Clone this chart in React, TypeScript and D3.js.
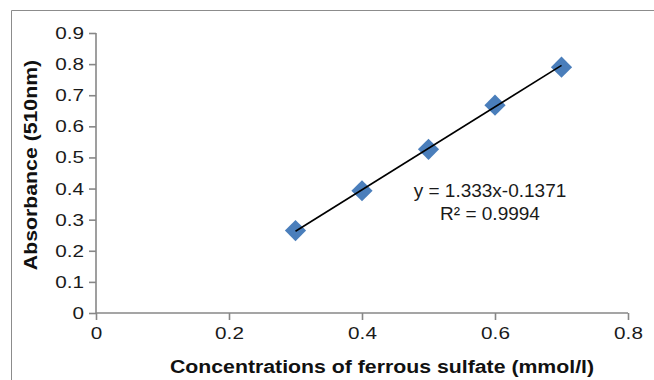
import { useEffect, useRef } from "react";
import * as d3 from "d3";

// data
const concentrations = [0.3, 0.4, 0.5, 0.6, 0.7];
const absorbance = [0.265, 0.393, 0.526, 0.668, 0.79];
const xTicks = [0, 0.2, 0.4, 0.6, 0.8];
const yTicks = [0, 0.1, 0.2, 0.3, 0.4, 0.5, 0.6, 0.7, 0.8, 0.9];
const slope = 1.333;
const intercept = -0.1371;
const equationLines = ["y = 1.333x-0.1371", "R² = 0.9994"];

const App = () => {
  const ref = useRef<SVGSVGElement>(null);

  useEffect(() => {
    const width = 654;
    const height = 380;
    const font = "'Liberation Sans', Arial, sans-serif";
    const axisColor = "#878787";
    const stretch = 1.22; // the original text is a bit wide
    const titleStretch = 1.12;

    const svg = d3.select(ref.current).attr("width", width).attr("height", height);
    svg.selectAll("*").remove();

    svg.append("rect").attr("width", width).attr("height", height).attr("fill", "white");

    // outer chart border (only left + top visible)
    svg
      .append("path")
      .attr("d", `M11.5,${height} V10.5 H${width}`)
      .attr("fill", "none")
      .attr("stroke", "#8c8c8c")
      .attr("stroke-width", 1);

    const x = d3.scaleLinear().domain([0, 0.8]).range([96, 628]);
    const y = d3.scaleLinear().domain([0, 0.9]).range([313, 33]);

    // y axis
    const gy = svg
      .append("g")
      .attr("transform", `translate(${x(0)},0)`)
      .call(
        d3
          .axisLeft(y)
          .tickValues(yTicks)
          .tickSize(7)
          .tickPadding(5)
          .tickFormat((d) => d3.format("")(+d))
      );

    // x axis
    const gx = svg
      .append("g")
      .attr("transform", `translate(0,${y(0)})`)
      .call(
        d3
          .axisBottom(x)
          .tickValues(xTicks)
          .tickSize(7)
          .tickPadding(7)
          .tickFormat((d) => d3.format("")(+d))
      );

    [gx, gy].forEach((g) => {
      g.select(".domain").attr("stroke", axisColor).attr("stroke-width", 1.6);
      g.selectAll(".tick line").attr("stroke", axisColor).attr("stroke-width", 1.6);
      g.selectAll(".tick text")
        .attr("fill", "#1a1a1a")
        .attr("font-family", font)
        .attr("font-size", 17)
        .attr("transform", `scale(${stretch},1)`);
    });
    gy.selectAll(".tick text").attr("x", -12 / stretch);
    // remove the outer tick ends of the domain paths
    gy.select(".domain").attr("d", `M0,${y(0.9)}V${y(0)}`);
    gx.select(".domain").attr("d", `M0,0H${x(0.8) - x(0)}`).attr("transform", `translate(${x(0)},0)`);

    // markers (rotated squares)
    const diamond = d3.symbol().type(d3.symbolSquare).size(225);
    svg
      .append("g")
      .selectAll("path")
      .data(concentrations)
      .join("path")
      .attr("d", diamond)
      .attr("transform", (d, i) => `translate(${x(d)},${y(absorbance[i])}) rotate(45)`)
      .attr("fill", "#4a7ebb");

    // trendline over the markers
    const fit = (v: number) => slope * v + intercept;
    const xs = d3.extent(concentrations) as [number, number];
    svg
      .append("line")
      .attr("x1", x(xs[0]))
      .attr("y1", y(fit(xs[0])))
      .attr("x2", x(xs[1]))
      .attr("y2", y(fit(xs[1])))
      .attr("stroke", "black")
      .attr("stroke-width", 1.6);

    // equation label
    svg
      .append("g")
      .selectAll("text")
      .data(equationLines)
      .join("text")
      .attr("x", 490)
      .attr("y", (d, i) => 197 + i * 23)
      .attr("text-anchor", "middle")
      .attr("font-family", font)
      .attr("font-size", 19)
      .attr("fill", "#1a1a1a")
      .text((d) => d);

    // axis titles
    svg
      .append("text")
      .attr("transform", `translate(382,373) scale(${titleStretch},1)`)
      .attr("text-anchor", "middle")
      .attr("font-family", font)
      .attr("font-size", 19)
      .attr("font-weight", "bold")
      .attr("fill", "#111")
      .text("Concentrations of ferrous sulfate (mmol/l)");

    svg
      .append("text")
      .attr("transform", `translate(37,165) rotate(-90) scale(${titleStretch},1)`)
      .attr("text-anchor", "middle")
      .attr("font-family", font)
      .attr("font-size", 19)
      .attr("font-weight", "bold")
      .attr("fill", "#111")
      .text("Absorbance (510nm)");
  }, []);

  return <svg ref={ref} style={{ position: "absolute", left: 0, top: 0 }} />;
};

export default App;
